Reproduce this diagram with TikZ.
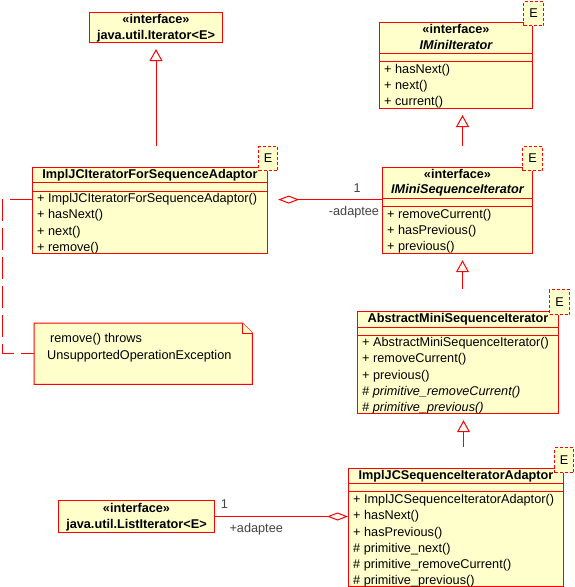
\documentclass[tikz,border=0pt]{standalone}
\usepackage{fontspec}
\setmainfont{Liberation Sans}[Scale=1.27]
\usetikzlibrary{arrows.meta, positioning, fit, calc}
\definecolor{umlred}{RGB}{255,0,0}
\definecolor{umlfill}{RGB}{255,255,204}
\definecolor{rolegray}{RGB}{68,68,68}

\begin{document}
\begin{tikzpicture}[x=1pt, y=-1pt, >=Stealth]
  % Define styles
  \tikzstyle{classbox} = [rectangle, draw=umlred, fill=umlfill, line width=1pt, inner sep=0pt, anchor=north west]
  \tikzstyle{tparam} = [rectangle, draw=umlred, dash pattern=on 3pt off 2pt, fill=umlfill, line width=1pt, inner sep=0pt, anchor=north west]
  \tikzstyle{headline} = [inner sep=0pt, text height=11pt, text depth=4pt, font=\bfseries]
  \tikzstyle{opline} = [inner sep=0pt, text height=11pt, text depth=4.8pt]
  \tikzstyle{sepline} = [draw=umlred, line width=1pt]
  \tikzstyle{notebox} = [draw=umlred, fill=umlfill, line width=1pt]
  \tikzstyle{realize} = [draw=umlred, line width=1pt, -{Triangle[open, fill=white, length=12pt, width=13pt, sep=6pt]}]
  \tikzstyle{aggregate} = [draw=umlred, line width=1pt, -{Diamond[open, fill=white, length=21pt, width=8pt]}]
  \tikzstyle{notelink} = [draw=umlred, line width=1pt, dash pattern=on 22pt off 7pt]
  \tikzstyle{role} = [text=rolegray, inner sep=1.5pt]

  \fill[white, use as bounding box] (0,0) rectangle (574,587);

  % Place class boxes
  \node[classbox, minimum width=133pt, minimum height=30pt] (iterator) at (89,12) {};
  \node[headline, below=0.5pt of iterator.north] (iteratorH1) {«interface»};
  \node[headline, below=0pt of iteratorH1] (iteratorH2) {java.util.Iterator<E>};

  \node[classbox, minimum width=153pt, minimum height=86pt] (mini) at (379,22) {};
  \node[tparam, minimum width=20pt, minimum height=24pt] (miniE) at (523,1) {E};
  \node[headline, below=0.5pt of mini.north] (miniH1) {«interface»};
  \node[headline, below=0pt of miniH1, font=\bfseries\itshape] (miniH2) {IMiniIterator};
  \draw[sepline] ([yshift=-31pt]mini.north west) -- ([yshift=-31pt]mini.north east);
  \draw[sepline] ([yshift=-39.5pt]mini.north west) -- ([yshift=-39.5pt]mini.north east);
  \node[opline, below right=40pt and 5pt of mini.north west] (miniM1) {+ hasNext()};
  \node[opline, below right=0pt and 0pt of miniM1.south west] (miniM2) {+ next()};
  \node[opline, below right=0pt and 0pt of miniM2.south west] (miniM3) {+ current()};

  \node[classbox, minimum width=150pt, minimum height=86pt] (miniseq) at (382,167) {};
  \node[tparam, minimum width=20pt, minimum height=24pt] (miniseqE) at (522,146) {E};
  \node[headline, below=0pt of miniseq.north] (miniseqH1) {«interface»};
  \node[headline, below=0pt of miniseqH1, font=\bfseries\itshape] (miniseqH2) {IMiniSequenceIterator};
  \draw[sepline] ([yshift=-31pt]miniseq.north west) -- ([yshift=-31pt]miniseq.north east);
  \draw[sepline] ([yshift=-39.5pt]miniseq.north west) -- ([yshift=-39.5pt]miniseq.north east);
  \node[opline, below right=40pt and 5pt of miniseq.north west] (miniseqM1) {+ removeCurrent()};
  \node[opline, below right=0pt and 0pt of miniseqM1.south west] (miniseqM2) {+ hasPrevious()};
  \node[opline, below right=0pt and 0pt of miniseqM2.south west] (miniseqM3) {+ previous()};

  \node[classbox, minimum width=235pt, minimum height=86pt] (impl) at (32,167) {};
  \node[tparam, minimum width=19pt, minimum height=24pt] (implE) at (258,146) {E};
  \node[headline, below=0.5pt of impl.north] (implH) {ImplJCIteratorForSequenceAdaptor};
  \draw[sepline] ([yshift=-15.5pt]impl.north west) -- ([yshift=-15.5pt]impl.north east);
  \draw[sepline] ([yshift=-24pt]impl.north west) -- ([yshift=-24pt]impl.north east);
  \node[opline, below right=24.5pt and 5pt of impl.north west] (implM1) {+ ImplJCIteratorForSequenceAdaptor()};
  \node[opline, below right=0pt and 0pt of implM1.south west] (implM2) {+ hasNext()};
  \node[opline, below right=0pt and 0pt of implM2.south west] (implM3) {+ next()};
  \node[opline, below right=0pt and 0pt of implM3.south west] (implM4) {+ remove()};

  \node[classbox, minimum width=201pt, minimum height=102pt] (abstract) at (357,311) {};
  \node[tparam, minimum width=20pt, minimum height=25pt] (abstractE) at (549,289) {E};
  \node[headline, below=0.5pt of abstract.north] (abstractH) {AbstractMiniSequenceIterator};
  \draw[sepline] ([yshift=-16pt]abstract.north west) -- ([yshift=-16pt]abstract.north east);
  \draw[sepline] ([yshift=-24pt]abstract.north west) -- ([yshift=-24pt]abstract.north east);
  \node[opline, below right=24.5pt and 5pt of abstract.north west] (abstractM1) {+ AbstractMiniSequenceIterator()};
  \node[opline, below right=0pt and 0pt of abstractM1.south west] (abstractM2) {+ removeCurrent()};
  \node[opline, below right=0pt and 0pt of abstractM2.south west] (abstractM3) {+ previous()};
  \node[opline, below right=0pt and 0pt of abstractM3.south west, font=\itshape] (abstractM4) {\# primitive\_removeCurrent()};
  \node[opline, below right=0pt and 0pt of abstractM4.south west, font=\itshape] (abstractM5) {\# primitive\_previous()};

  \node[classbox, minimum width=215pt, minimum height=118pt] (implseq) at (348,468) {};
  \node[tparam, minimum width=19pt, minimum height=25pt] (implseqE) at (554,447) {E};
  \node[headline, below=0.5pt of implseq.north] (implseqH) {ImplJCSequenceIteratorAdaptor};
  \draw[sepline] ([yshift=-15pt]implseq.north west) -- ([yshift=-15pt]implseq.north east);
  \draw[sepline] ([yshift=-23.5pt]implseq.north west) -- ([yshift=-23.5pt]implseq.north east);
  \node[opline, below right=24.5pt and 5pt of implseq.north west] (implseqM1) {+ ImplJCSequenceIteratorAdaptor()};
  \node[opline, below right=0pt and 0pt of implseqM1.south west] (implseqM2) {+ hasNext()};
  \node[opline, below right=0pt and 0pt of implseqM2.south west] (implseqM3) {+ hasPrevious()};
  \node[opline, below right=0pt and 0pt of implseqM3.south west] (implseqM4) {\# primitive\_next()};
  \node[opline, below right=0pt and 0pt of implseqM4.south west] (implseqM5) {\# primitive\_removeCurrent()};
  \node[opline, below right=0pt and 0pt of implseqM5.south west] (implseqM6) {\# primitive\_previous()};

  \node[classbox, minimum width=156pt, minimum height=32pt] (listiter) at (58,500) {};
  \node[headline, below=1.5pt of listiter.north] (listiterH1) {«interface»};
  \node[headline, below=0pt of listiterH1] (listiterH2) {java.util.ListIterator<E>};

  % Note
  \node[minimum width=218pt, minimum height=61pt, inner sep=0pt, anchor=north west] (note) at (34,323) {};
  \draw[notebox] (note.north west) -- ([xshift=-10pt]note.north east) -- ([yshift=-10pt]note.north east) -- (note.south east) -- (note.south west) -- cycle;
  \draw[notebox] ([xshift=-10pt]note.north east) |- ([yshift=-10pt]note.north east);
  \node[align=left, inner sep=0pt, below right=10pt and 13pt of note.north west] (noteText) {\hspace{3pt}remove() throws\\[5pt]UnsupportedOperationException};

  % Bounds with the template boxes
  \node[fit=(mini)(miniE), inner sep=0pt] (miniAll) {};
  \node[fit=(miniseq)(miniseqE), inner sep=0pt] (miniseqAll) {};
  \node[fit=(impl)(implE), inner sep=0pt] (implAll) {};
  \node[fit=(abstract)(abstractE), inner sep=0pt] (abstractAll) {};
  \node[fit=(implseq)(implseqE), inner sep=0pt] (implseqAll) {};
  \coordinate[left=30pt of impl.west] (noteBend);

  % Draw edges
  \draw[realize] (implAll.north -| iterator.south) -- (iterator.south);
  \draw[realize] (miniseqAll.north) -- (miniseqAll.north |- mini.south);
  \draw[realize] (abstractAll.north -| miniseqAll.south) -- (miniseqAll.south);
  \draw[realize] (implseqAll.north -| abstractAll.south) -- (abstractAll.south);
  \draw[aggregate] (miniseq.west |- implM1) -- node[role, pos=0.24, above=5pt] {1} node[role, pos=0.27, below=5pt] {-adaptee} (implAll.east |- implM1);
  \draw[aggregate] (listiter.east) -- node[role, pos=0.07, above=6pt] {1} node[role, pos=0.31, below=5pt] {+adaptee} (implseq.west |- listiter.east);
  \draw[notelink] (impl.west |- implM1) -- (noteBend |- implM1) |- (note.west);

\end{tikzpicture}
\end{document}
